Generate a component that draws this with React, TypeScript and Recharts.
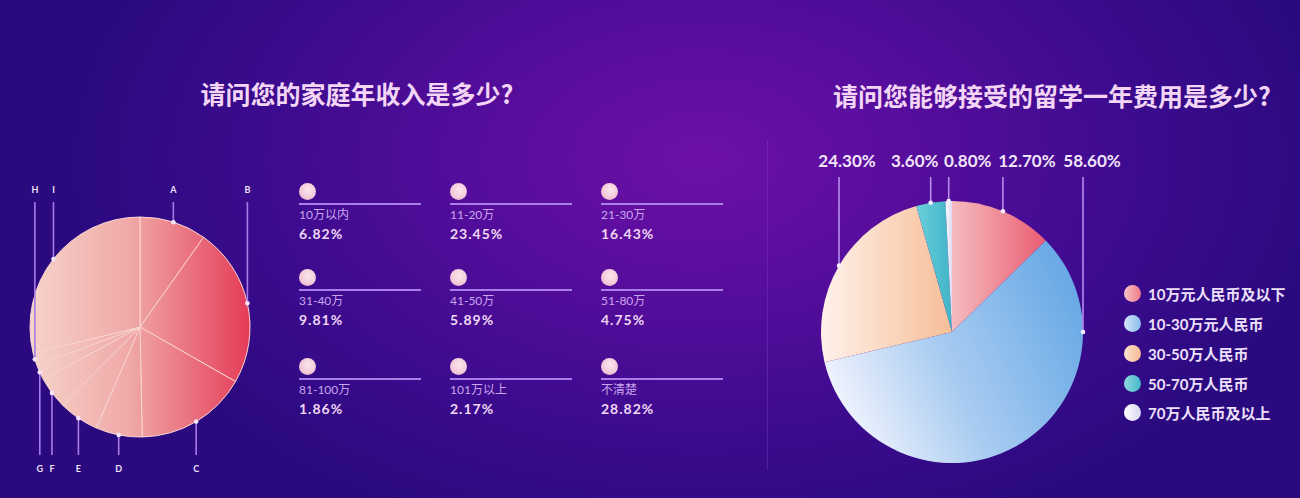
import React from 'react';
import { PieChart, Pie, Cell } from 'recharts';

// ---------- data ----------
const incomeTitle = '请问您的家庭年收入是多少?';
const incomeCategories = ['10万以内', '11-20万', '21-30万', '31-40万', '41-50万', '51-80万', '81-100万', '101万以上', '不清楚'];
const incomeShares = [6.82, 23.45, 16.43, 9.81, 5.89, 4.75, 1.86, 2.17, 28.82];
const incomePieLetters = ['A', 'B', 'C', 'D', 'E', 'F', 'G', 'H', 'I'];
const incomePieShares = [9.81, 23.45, 16.43, 6.82, 5.89, 4.75, 2.17, 1.86, 28.82];

const costTitle = '请问您能够接受的留学一年费用是多少?';
const costCategories = ['10万元人民币及以下', '10-30万元人民币', '30-50万人民币', '50-70万人民币', '70万人民币及以上'];
const costShares = [12.7, 58.6, 24.3, 3.6, 0.8];

// ---------- styling ----------
const RAD = Math.PI / 180;
const CJK = '"Noto Sans CJK SC", "Noto Sans", sans-serif';
const NUM = 'Lato, "Noto Sans CJK SC", sans-serif';
const TOP_LETTERS = ['A', 'B', 'H', 'I'];
const COST_LABEL_DX = [24, 9, 8, -16, 19];
const costGradIds = ['gPink', 'gBlue', 'gPeach', 'gTeal', 'gWhite'];
const costLegendColors = [
  ['#f9c4c8', '#ee7a88'],
  ['#d6e6fb', '#8bbcec'],
  ['#fde2cf', '#f5b994'],
  ['#8fd9e2', '#45b8c8'],
  ['#ffffff', '#d8d6ee'],
];

const incomePieData = incomePieLetters.map((letter, i) => ({ name: letter, value: incomePieShares[i] }));
const costPieData = costCategories.map((name, i) => ({ name, value: costShares[i] }));

function incomeLabel(props: any) {
  const { cx, cy, midAngle, outerRadius, index } = props;
  const letter = incomePieLetters[index];
  const x = cx + outerRadius * Math.cos(-midAngle * RAD);
  const y = cy + outerRadius * Math.sin(-midAngle * RAD);
  const top = TOP_LETTERS.includes(letter);
  const lineEnd = top ? 202 : 455;
  const ty = top ? 189 : 468;
  return (
    <g key={`il-${index}`}>
      <line x1={x} y1={lineEnd} x2={x} y2={y} stroke="#a77ce8" strokeWidth={1.6} />
      <circle cx={x} cy={y} r={2.3} fill="#f3e4fa" />
      <text x={x} y={ty} textAnchor="middle" dominantBaseline="central" fill="#efe2fa" fontSize={9} fontWeight={700} fontFamily={NUM}>
        {letter}
      </text>
    </g>
  );
}

function costLabel(props: any) {
  const { cx, cy, midAngle, outerRadius, index, value } = props;
  let px = cx + outerRadius * Math.cos(-midAngle * RAD);
  let py = cy + outerRadius * Math.sin(-midAngle * RAD);
  if (py > cy) {
    px = cx + (px >= cx ? outerRadius : -outerRadius);
    py = cy;
  }
  return (
    <g key={`cl-${index}`}>
      <line x1={px} y1={177} x2={px} y2={py} stroke="#b78cf0" strokeWidth={1.6} />
      <circle cx={px} cy={py} r={2.3} fill="#f4ecff" />
      <text x={px + COST_LABEL_DX[index]} y={160} textAnchor="middle" dominantBaseline="central" fill="#f1e4fa" fontSize={17} fontWeight={700} fontFamily={NUM}>
        {`${Number(value).toFixed(2)}%`}
      </text>
    </g>
  );
}

const gridCols = [299, 450, 601];
const gridRows = [192, 278, 367];
const costLegendRows = [293, 323, 353, 383, 412];

export default function App() {
  return (
    <div
      style={{
        position: 'absolute',
        left: 0,
        top: 0,
        width: 1300,
        height: 498,
        overflow: 'hidden',
        background: 'radial-gradient(ellipse 48% 78% at 54% 32%, #6c10a6 0%, #560d9c 35%, #3c0b8e 70%, #2b0a80 100%)',
        fontFamily: CJK,
      }}
    >
      {/* divider */}
      <div style={{ position: 'absolute', left: 767, top: 140, width: 1, height: 330, background: 'rgba(170,120,255,0.2)' }} />

      {/* titles */}
      <div style={{ position: 'absolute', left: 357, top: 93, transform: 'translate(-50%,-50%)', whiteSpace: 'nowrap', color: '#f3d6f5', fontSize: 25, fontWeight: 700 }}>
        {incomeTitle}
      </div>
      <div style={{ position: 'absolute', left: 1052, top: 95, transform: 'translate(-50%,-50%)', whiteSpace: 'nowrap', color: '#f3d6f5', fontSize: 25, fontWeight: 700 }}>
        {costTitle}
      </div>

      {/* income legend grid */}
      {incomeCategories.map((cat, i) => {
        const x = gridCols[i % 3];
        const y = gridRows[Math.floor(i / 3)];
        return (
          <div key={cat} style={{ position: 'absolute', left: x, top: y - 9 }}>
            <div
              style={{
                position: 'absolute',
                left: 0,
                top: 0,
                width: 17,
                height: 17,
                borderRadius: '50%',
                background: 'radial-gradient(circle at 55% 40%, #fbe6ee 0%, #f2c8d8 60%, #d8a0bc 100%)',
              }}
            />
            <div style={{ position: 'absolute', left: 0, top: 20, width: 122, height: 2, background: '#a97ee8' }} />
            <div style={{ position: 'absolute', left: 0, top: 25, whiteSpace: 'nowrap', color: '#c9a6ef', fontSize: 12, lineHeight: '14px', fontFamily: NUM }}>
              {cat}
            </div>
            <div style={{ position: 'absolute', left: 0, top: 43, whiteSpace: 'nowrap', color: '#f1d8f4', fontSize: 14, lineHeight: '16px', fontWeight: 700, letterSpacing: 1, fontFamily: NUM }}>
              {`${incomeShares[i].toFixed(2)}%`}
            </div>
          </div>
        );
      })}

      {/* cost legend */}
      {costCategories.map((cat, i) => (
        <div key={cat} style={{ position: 'absolute', left: 1124, top: costLegendRows[i] - 9, height: 18, display: 'flex', alignItems: 'center' }}>
          <div
            style={{
              width: 17,
              height: 17,
              borderRadius: '50%',
              background: `linear-gradient(90deg, ${costLegendColors[i][0]}, ${costLegendColors[i][1]})`,
            }}
          />
          <div style={{ marginLeft: 7, whiteSpace: 'nowrap', color: '#ede0fa', fontSize: 15, fontWeight: 700, fontFamily: NUM }}>{cat}</div>
        </div>
      ))}

      <div style={{ position: 'absolute', left: 0, top: 0 }}>
        <PieChart width={1300} height={498} margin={{ top: 0, right: 0, bottom: 0, left: 0 }}>
          <defs>
            <linearGradient id="incomeGrad" gradientUnits="userSpaceOnUse" x1={30} y1={0} x2={250} y2={0}>
              <stop offset="0%" stopColor="#f6d3ca" />
              <stop offset="45%" stopColor="#f0a9a8" />
              <stop offset="100%" stopColor="#e53b58" />
            </linearGradient>
            <linearGradient id="gPink" x1="0" y1="0" x2="1" y2="0">
              <stop offset="0%" stopColor="#f5bcbf" />
              <stop offset="100%" stopColor="#ea5c72" />
            </linearGradient>
            <linearGradient id="gBlue" x1="0" y1="0.7" x2="1" y2="0.3">
              <stop offset="0%" stopColor="#f6f6fe" />
              <stop offset="45%" stopColor="#a9ccf1" />
              <stop offset="100%" stopColor="#69a9e6" />
            </linearGradient>
            <linearGradient id="gPeach" x1="0" y1="0" x2="1" y2="0">
              <stop offset="0%" stopColor="#fff1ea" />
              <stop offset="100%" stopColor="#f6be98" />
            </linearGradient>
            <linearGradient id="gTeal" x1="0" y1="0" x2="1" y2="0">
              <stop offset="0%" stopColor="#6ccfdb" />
              <stop offset="100%" stopColor="#3fb4c6" />
            </linearGradient>
            <linearGradient id="gWhite" x1="0" y1="0" x2="1" y2="0">
              <stop offset="0%" stopColor="#ffffff" />
              <stop offset="100%" stopColor="#dcdaf2" />
            </linearGradient>
          </defs>
          <Pie
            data={incomePieData}
            dataKey="value"
            nameKey="name"
            cx={140}
            cy={327}
            outerRadius={110}
            startAngle={90}
            endAngle={-270}
            isAnimationActive={false}
            label={incomeLabel}
            labelLine={false}
            stroke="#f9d6d2"
            strokeWidth={1}
          >
            {incomePieData.map((d) => (
              <Cell key={d.name} fill="url(#incomeGrad)" stroke="#f9d6d2" strokeWidth={1} />
            ))}
          </Pie>
          <Pie
            data={costPieData}
            dataKey="value"
            nameKey="name"
            cx={952}
            cy={332}
            outerRadius={131}
            startAngle={90}
            endAngle={-270}
            isAnimationActive={false}
            label={costLabel}
            labelLine={false}
            stroke="none"
          >
            {costPieData.map((d, i) => (
              <Cell key={d.name} fill={`url(#${costGradIds[i]})`} stroke="none" />
            ))}
          </Pie>
        </PieChart>
      </div>
    </div>
  );
}
